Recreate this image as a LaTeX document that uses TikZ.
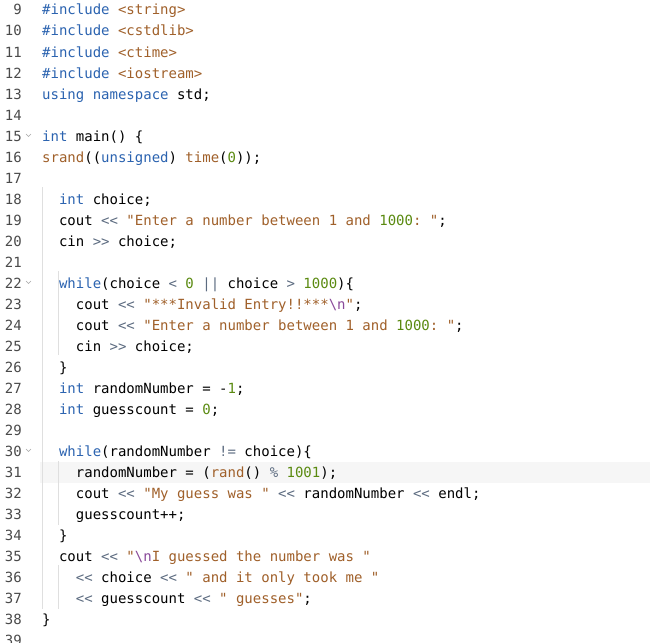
\documentclass[tikz,border=0pt]{standalone}
\usepackage{fontspec}
\setmonofont{DejaVu Sans Mono}
\definecolor{kw}{HTML}{2B63B0}
\definecolor{str}{HTML}{A0602A}
\definecolor{num}{HTML}{5A8A10}
\definecolor{op}{HTML}{5C6B80}
\definecolor{esc}{HTML}{8A4A9A}
\definecolor{lnum}{HTML}{4A4A4A}
\tikzset{
  code/.style={anchor=base west,inner sep=0,font=\ttfamily\fontsize{14}{14}\selectfont},
  lno/.style={anchor=base east,inner sep=0,text=lnum,font=\ttfamily\fontsize{14}{14}\selectfont},
  guide/.style={draw=gray!25,line width=0.6pt},
  fold/.style={draw=gray!70,line width=0.5pt}
}
\newcommand{\K}[1]{\textcolor{kw}{#1}}
\newcommand{\St}[1]{\textcolor{str}{#1}}
\newcommand{\N}[1]{\textcolor{num}{#1}}
\newcommand{\Op}[1]{\textcolor{op}{#1}}
\newcommand{\codeline}[3]{%
  \node[lno] (n#1) at (22,{15+(#1-9)*21}) {#1};
  \node[code] (c#1) at ({42+#2*8.43},{15+(#1-9)*21}) {#3};}
\begin{document}
\begin{tikzpicture}[x=1pt,y=-1pt]
\useasboundingbox[fill=white] (0,0) rectangle (650,642);
\fill[gray!7] (40,462) rectangle (650,483);

% indent guides
\draw[guide] (42,187) -- (42,609);
\draw[guide] (58,271) -- (58,355);
\draw[guide] (58,461) -- (58,525);
\draw[guide] (58,565) -- (58,609);

\codeline{9}{0}{\K{\#include} \St{<string>}}
\codeline{10}{0}{\K{\#include} \St{<cstdlib>}}
\codeline{11}{0}{\K{\#include} \St{<ctime>}}
\codeline{12}{0}{\K{\#include} \St{<iostream>}}
\codeline{13}{0}{\K{using} \K{namespace} std;}
\codeline{14}{0}{}
\codeline{15}{0}{\K{int} main() \{}
\codeline{16}{0}{\St{srand}((\K{unsigned}) \St{time}(\N{0}));}
\codeline{17}{0}{}
\codeline{18}{2}{\K{int} choice;}
\codeline{19}{2}{cout \Op{<<} \St{"Enter a number between 1 and }\N{1000}\St{: "};}
\codeline{20}{2}{cin \Op{>>} choice;}
\codeline{21}{0}{}
\codeline{22}{2}{\K{while}(choice \Op{<} \N{0} \Op{||} choice \Op{>} \N{1000})\{}
\codeline{23}{4}{cout \Op{<<} \St{"***Invalid Entry!!***}\textcolor{esc}{\textbackslash n}\St{"};}
\codeline{24}{4}{cout \Op{<<} \St{"Enter a number between 1 and }\N{1000}\St{: "};}
\codeline{25}{4}{cin \Op{>>} choice;}
\codeline{26}{2}{\}}
\codeline{27}{2}{\K{int} randomNumber = -\N{1};}
\codeline{28}{2}{\K{int} guesscount = \N{0};}
\codeline{29}{0}{}
\codeline{30}{2}{\K{while}(randomNumber \Op{!=} choice)\{}
\codeline{31}{4}{randomNumber = (\St{rand}() \Op{\%} \N{1001});}
\codeline{32}{4}{cout \Op{<<} \St{"My guess was "} \Op{<<} randomNumber \Op{<<} endl;}
\codeline{33}{4}{guesscount++;}
\codeline{34}{2}{\}}
\codeline{35}{2}{cout \Op{<<} \St{"}\textcolor{esc}{\textbackslash n}\St{I guessed the number was "}}
\codeline{36}{4}{\Op{<<} choice \Op{<<} \St{" and it only took me "}}
\codeline{37}{4}{\Op{<<} guesscount \Op{<<} \St{" guesses"};}
\codeline{38}{0}{\}}
\codeline{39}{0}{}

% fold markers
\foreach \l in {15,22,30}
  \draw[fold] (26,{8+(\l-9)*21}) -- (28.5,{10.5+(\l-9)*21}) -- (31,{8+(\l-9)*21});
\end{tikzpicture}
\end{document}
